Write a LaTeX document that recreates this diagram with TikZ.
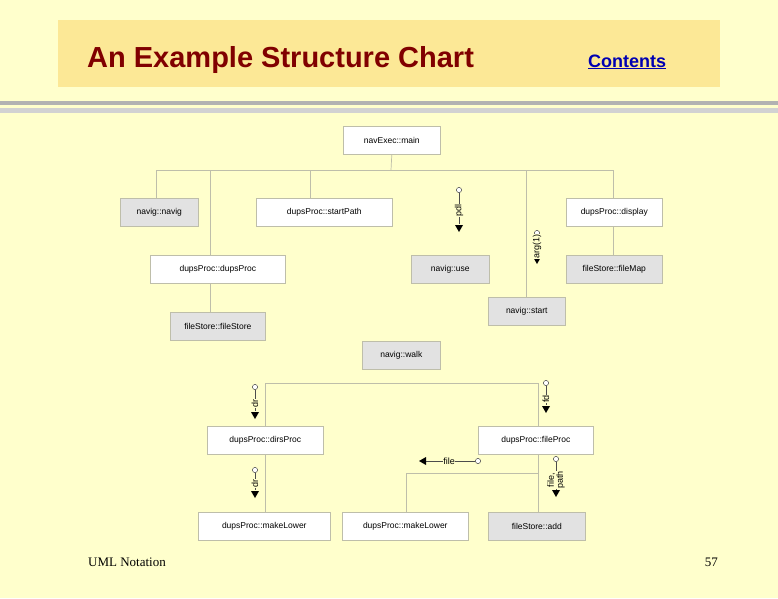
\documentclass[tikz,border=0pt]{standalone}
\usepackage{fontspec}
\setmainfont{Liberation Serif}
\newfontfamily\arialf{Liberation Sans}
\usetikzlibrary{arrows.meta}
\definecolor{bg}{RGB}{255,255,204}
\definecolor{titlebg}{RGB}{252,232,150}
\definecolor{titlered}{RGB}{128,0,0}
\definecolor{boxgray}{RGB}{226,226,226}
\definecolor{linec}{RGB}{190,190,170}
\begin{document}
\begin{tikzpicture}[x=1pt,y=-1pt,
  mbox/.style={draw=linec,line width=0.6pt,fill=white,inner sep=0pt,font=\arialf\fontsize{8.5}{9}\selectfont,anchor=north west},
  gbox/.style={mbox,fill=boxgray},
  conn/.style={draw=linec,line width=0.7pt},
  flag/.style={draw=black!70,line width=0.5pt},
  ftxt/.style={font=\arialf\fontsize{9}{9}\selectfont,fill=bg,inner sep=0.5pt}]
\useasboundingbox (0,0) rectangle (778,598);
\fill[bg] (0,0) rectangle (778,598);
\fill[titlebg] (58,20) rectangle (720,87);
\node[font=\arialf\bfseries\fontsize{29}{30}\selectfont,text=titlered,anchor=base west,inner sep=0pt] (title) at (87,67) {An Example Structure Chart};
\node[font=\arialf\bfseries\fontsize{18}{20}\selectfont,text=blue!70!black,anchor=base west,inner sep=0pt] (cont) at (588,67) {\underline{Contents}};
\fill[gray!60] (0,101) rectangle (778,105);
\fill[gray!35] (0,108) rectangle (778,113);
\node[font=\fontsize{13}{14}\selectfont,anchor=base west,inner sep=0pt] (uml) at (88,566) {UML Notation};
\node[font=\fontsize{13}{14}\selectfont,anchor=base east,inner sep=0pt] (pg) at (718,566) {57};
% boxes
\node[mbox,minimum width=97pt,minimum height=28pt] (main) at (343,126) {navExec::main};
\node[gbox,minimum width=78pt,minimum height=28pt] (navig) at (120,198) {navig::navig};
\node[mbox,minimum width=136pt,minimum height=28pt] (sp) at (256,198) {dupsProc::startPath};
\node[mbox,minimum width=96pt,minimum height=28pt] (disp) at (566,198) {dupsProc::display};
\node[mbox,minimum width=135pt,minimum height=28pt] (dp) at (150,255) {dupsProc::dupsProc};
\node[gbox,minimum width=78pt,minimum height=28pt] (use) at (411,255) {navig::use};
\node[gbox,minimum width=96pt,minimum height=28pt] (fmap) at (566,255) {fileStore::fileMap};
\node[gbox,minimum width=77pt,minimum height=28pt] (start) at (488,297) {navig::start};
\node[gbox,minimum width=95pt,minimum height=28pt] (fs) at (170,312) {fileStore::fileStore};
\node[gbox,minimum width=78pt,minimum height=28pt] (walk) at (362,341) {navig::walk};
\node[mbox,minimum width=116pt,minimum height=28pt] (dirs) at (207,426) {dupsProc::dirsProc};
\node[mbox,minimum width=115pt,minimum height=28pt] (fp) at (478,426) {dupsProc::fileProc};
\node[mbox,minimum width=132pt,minimum height=28pt] (ml1) at (198,512) {dupsProc::makeLower};
\node[mbox,minimum width=126pt,minimum height=28pt] (ml2) at (342,512) {dupsProc::makeLower};
\node[gbox,minimum width=97pt,minimum height=28pt] (add) at (488,512) {fileStore::add};
% top tree
\coordinate (b0) at (391,170);
\draw[conn] (main.south) -- (b0);
\draw[conn] (156,170) -- (613,170);
\draw[conn] (156,170) -- (156,198);
\draw[conn] (210,170) -- (210,255);
\draw[conn] (210,283) -- (210,312);
\draw[conn] (310,170) -- (310,198);
\draw[conn] (526,170) -- (526,297);
\draw[conn] (613,170) -- (613,198);
\draw[conn] (613,226) -- (613,255);
% flags top
\draw[flag] (459,193) -- (459,224);
\draw[flag,fill=white] (459,190) circle (2.6pt);
\fill (455,225) -- (463,225) -- (459,232) -- cycle;
\node[ftxt,rotate=90] (pdl) at (459,210) {pdl};
\draw[flag] (537,236) -- (537,256);
\draw[flag,fill=white] (537,233) circle (2.6pt);
\fill (533,257) -- (541,257) -- (537,264) -- cycle;
\node[ftxt,rotate=90] (arg) at (537,246) {arg(1)};
% lower tree
\draw[conn] (265,426) -- (265,383) -- (538,383) -- (538,426);
\draw[conn] (265,454) -- (265,512);
\draw[conn] (538,454) -- (538,512);
\draw[conn] (406,512) -- (406,473) -- (538,473);
% flags lower
\draw[flag] (255,390) -- (255,411);
\draw[flag,fill=white] (255,387) circle (2.6pt);
\fill (251,412) -- (259,412) -- (255,419) -- cycle;
\node[ftxt,rotate=90] (dr1) at (255,403) {dr};
\draw[flag] (546,386) -- (546,405);
\draw[flag,fill=white] (546,383) circle (2.6pt);
\fill (542,406) -- (550,406) -- (546,413) -- cycle;
\node[ftxt,rotate=90] (fd) at (546,399) {fd};
\draw[flag] (255,473) -- (255,490);
\draw[flag,fill=white] (255,470) circle (2.6pt);
\fill (251,491) -- (259,491) -- (255,498) -- cycle;
\node[ftxt,rotate=90] (dr2) at (255,483) {dr};
\draw[flag] (475,461) -- (426,461);
\draw[flag,fill=white] (478,461) circle (2.6pt);
\fill (426,457) -- (426,465) -- (419,461) -- cycle;
\node[ftxt] (file) at (449,461) {file};
\draw[flag] (556,462) -- (556,490);
\draw[flag,fill=white] (556,459) circle (2.6pt);
\fill (552,490) -- (560,490) -- (556,497) -- cycle;
\node[ftxt,rotate=90,align=center] (fpath) at (556,480) {file,\\path};
\end{tikzpicture}
\end{document}
